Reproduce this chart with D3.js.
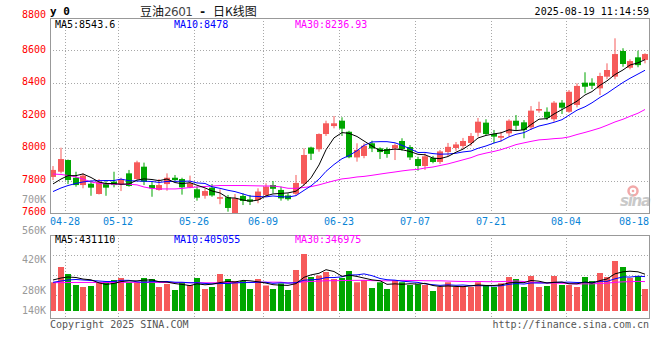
<!DOCTYPE html>
<html><head><meta charset="utf-8">
<script src="https://cdn.jsdelivr.net/npm/d3@7"></script>
<style>body{margin:0;background:#fff}svg{display:block}</style>
</head><body>
<svg id="c" width="660" height="360"></svg>
<script>
// ---------- data ----------
const dates = ["04-24","04-25","04-28","04-29","04-30","05-06","05-07","05-08","05-09","05-12",
"05-13","05-14","05-15","05-16","05-19","05-20","05-21","05-22","05-23","05-26",
"05-27","05-28","05-29","05-30","06-03","06-04","06-05","06-06","06-09","06-10",
"06-11","06-12","06-13","06-16","06-17","06-18","06-19","06-20","06-23","06-24",
"06-25","06-26","06-27","06-30","07-01","07-02","07-03","07-04","07-07","07-08",
"07-09","07-10","07-11","07-14","07-15","07-16","07-17","07-18","07-21","07-22",
"07-23","07-24","07-25","07-28","07-29","07-30","07-31","08-01","08-04","08-05",
"08-06","08-07","08-08","08-11","08-12","08-13","08-14","08-15","08-18"];
const open = [7822,7854,7926,7817,7772,7780,7717,7783,7793,7778,
7844,7809,7885,7772,7742,7778,7817,7809,7758,7746,
7706,7756,7688,7697,7600,7705,7684,7680,7711,7772,
7742,7708,7718,7780,8003,7992,8086,8135,8168,8100,
7942,7951,8029,7998,7994,7997,8043,8006,7932,7889,
7938,7914,7975,8000,8012,8031,8094,8156,8086,8063,
8090,8168,8158,8127,8230,8223,8177,8279,8223,8265,
8402,8402,8367,8439,8439,8597,8494,8558,8542];
const high = [7889,8002,7929,7854,7844,7799,7809,7803,7854,7817,
7865,7922,7910,7793,7809,7844,7834,7817,7830,7762,
7750,7778,7746,7711,7717,7721,7711,7752,7783,7797,
7762,7721,7834,7998,8008,8090,8168,8197,8189,8106,
8029,8029,8045,8004,8004,8029,8060,8018,7946,7967,
7951,7988,8031,8037,8062,8092,8185,8177,8111,8100,
8177,8203,8172,8258,8285,8250,8289,8295,8357,8398,
8466,8429,8463,8521,8675,8614,8546,8599,8583];
const low = [7803,7844,7778,7762,7752,7706,7714,7706,7758,7735,
7762,7805,7772,7700,7737,7737,7793,7713,7752,7676,
7688,7700,7654,7608,7596,7649,7649,7660,7700,7721,
7676,7676,7708,7768,7926,7977,8074,8121,8074,7937,
7916,7937,7975,7932,7940,7926,7983,7926,7860,7865,
7906,7902,7951,7982,7994,8012,8070,8080,8029,8039,
8070,8111,8060,8111,8217,8172,8162,8209,8217,8250,
8337,8363,8326,8423,8423,8500,8484,8497,8521];
const close = [7865,7932,7803,7772,7830,7756,7793,7756,7772,7807,
7766,7912,7793,7752,7772,7817,7803,7758,7783,7694,
7735,7708,7697,7631,7690,7674,7670,7732,7762,7749,
7690,7685,7785,7957,7965,8086,8152,8152,8119,7943,
7988,8014,7997,7975,7963,8018,7994,7942,7889,7949,
7914,7979,8007,8022,8043,8074,8162,8086,8070,8074,
8168,8137,8111,8230,8240,8186,8279,8248,8346,8382,
8377,8383,8443,8480,8578,8517,8535,8510,8578];
const volume = [337800,517900,435500,306000,282500,294250,337800,344900,364900,388400,
337800,337800,388400,376600,282500,317800,247200,341300,306000,388400,
258900,282500,435500,376600,353100,353100,258900,376600,300100,258900,
323700,247200,482600,670900,400200,417800,459000,376600,388400,470800,
337800,364900,270700,337800,258900,364900,337800,306000,314300,306000,
235400,282500,337800,282500,294250,282500,337800,306000,282500,326000,
400200,376600,282500,412000,282500,294250,412000,306000,306000,282500,
400200,353100,447300,400200,588500,517900,388400,412000,258900];
// moving-average values before enough history is on screen
const ma5Head = [7779,7809,7830,7830];
const ma10Head = [7732,7754,7769,7782,7791,7797,7799,7800,7800];
const ma30Head = [7840,7837,7831,7822,7809,7791,7782,7779,7777,7777,7777,7773,7760,7751,7748,
7748,7748,7751,7757,7760,7763,7766,7769,7769,7769,7769,7768,7767,7766];
const vma5Head = [364900,388400,400200,394300];
const vma10Head = [337800,353100,364900,370800,364900,359000,353100,347200,347200];
const vma30Head = [333000,334000,335000,336000,336000,336000,336000,336000,336000,337000,
337000,337000,337000,337000,336000,335000,334000,333000,333000,332000,
332000,332000,333000,334000,335000,336000,337000,338000,339000];
const dateTicks = ["04-28","05-12","05-26","06-09","06-23","07-07","07-21","08-04","08-18"];
const priceTicks = [7600,7800,8000,8200,8400,8600,8800];
const volTickLabels = ["700K","560K","420K","280K","140K"];
const maLabels = ["MA5:8543.6","MA10:8478","MA30:8236.93"];
const volMaLabels = ["MA5:431110","MA10:405055","MA30:346975"];

// ---------- layout ----------
const L = 50, R = 650, pTop = 18, pBot = 213, vTop = 235, vBot = 318, vBase = 311;
const volLabelY = [200, 231, 260, 290.5, 311];
const RED = "#f65a5a", GREEN = "#00a600", GRID = "#a8a8a8", FRAME = "#999";
const MONO = "'DejaVu Sans Mono', monospace";

const svg = d3.select("#c");
const x = d3.scaleBand().domain(dates).range([L, R]);
const y = d3.scaleLinear().domain([7600, 8800]).range([pBot, pTop]);
const yv = d3.scaleLinear().domain([0, 1000000]).range([vBase, vBase - 1000000 / 11770]);
const bx = d => Math.round(x(d));
const cx = i => bx(dates[i]) + 3;
const colorOf = i => close[i] >= open[i] ? RED : GREEN;

// ---------- watermark ----------
const wm = svg.append("g");
wm.append("circle").attr("cx", 633).attr("cy", 191).attr("r", 4.5)
  .attr("fill", "none").attr("stroke", "#f2a9a9").attr("stroke-width", 2.5);
wm.append("circle").attr("cx", 633).attr("cy", 191).attr("r", 1.3).attr("fill", "#f2a9a9");
wm.append("text").attr("x", 620).attr("y", 206).text("sina")
  .attr("font-family", "'DejaVu Sans', sans-serif").attr("font-size", 15).attr("font-weight", "bold")
  .attr("font-style", "italic").attr("fill", "#c9c9c9").attr("textLength", 31);

// ---------- grids ----------
const grid = svg.append("g").attr("stroke", GRID).attr("stroke-dasharray", "1,2").attr("fill", "none");
priceTicks.filter(v => v > 7600 && v < 8800).forEach(v => {
  const yy = Math.round(y(v)) + 0.5;
  grid.append("line").attr("x1", L).attr("x2", R - 1).attr("y1", yy).attr("y2", yy);
});
[1, 2, 3].forEach(k => {
  const yy = vTop + k * 20 + 0.5;
  grid.append("line").attr("x1", L).attr("x2", R - 1).attr("y1", yy).attr("y2", yy);
});
dateTicks.slice(0, -1).forEach(d => {
  const xx = bx(d) + 0.5;
  grid.append("line").attr("x1", xx).attr("x2", xx).attr("y1", pTop).attr("y2", pBot);
  grid.append("line").attr("x1", xx).attr("x2", xx).attr("y1", vTop).attr("y2", vBot);
});

// ---------- candles ----------
const cg = svg.append("g");
dates.forEach((d, i) => {
  const c = colorOf(i), left = bx(d);
  cg.append("rect").attr("x", left + 2.5).attr("width", 1)
    .attr("y", y(high[i])).attr("height", Math.max(1, y(low[i]) - y(high[i]))).attr("fill", c);
  const t = y(Math.max(open[i], close[i])), b = y(Math.min(open[i], close[i]));
  cg.append("rect").attr("x", left).attr("width", 6)
    .attr("y", t).attr("height", Math.max(1, b - t)).attr("fill", c);
});

// ---------- volume bars ----------
const vg = svg.append("g");
dates.forEach((d, i) => {
  vg.append("rect").attr("x", bx(d)).attr("width", 6)
    .attr("y", yv(volume[i])).attr("height", vBase - yv(volume[i])).attr("fill", colorOf(i));
});

// ---------- moving averages ----------
function movAvg(vals, n, head) {
  return vals.map((v, i) => i < n - 1 ? head[i] : d3.mean(vals.slice(i - n + 1, i + 1)));
}
const lineP = d3.line().x((d, i) => cx(i)).y(d => y(d));
const lineV = d3.line().x((d, i) => cx(i)).y(d => yv(d));
[[movAvg(close, 30, ma30Head), "#ff00ff"], [movAvg(close, 10, ma10Head), "#0000ff"], [movAvg(close, 5, ma5Head), "#000"]]
  .forEach(([s, col]) => svg.append("path").attr("d", lineP(s)).attr("fill", "none").attr("stroke", col).attr("stroke-width", 1));
[[movAvg(volume, 30, vma30Head), "#ff00ff"], [movAvg(volume, 10, vma10Head), "#0000ff"], [movAvg(volume, 5, vma5Head), "#000"]]
  .forEach(([s, col]) => svg.append("path").attr("d", lineV(s)).attr("fill", "none").attr("stroke", col).attr("stroke-width", 1));

// ---------- frames ----------
svg.append("rect").attr("x", L + 0.5).attr("y", pTop + 0.5).attr("width", R - L - 1).attr("height", pBot - pTop)
  .attr("fill", "none").attr("stroke", FRAME);
svg.append("rect").attr("x", L + 0.5).attr("y", vTop + 0.5).attr("width", R - L - 1).attr("height", vBot - vTop)
  .attr("fill", "none").attr("stroke", FRAME);

// ---------- axes / labels ----------
const ax = svg.append("g").attr("transform", `translate(${L},0)`)
  .call(d3.axisLeft(y).tickValues(priceTicks).tickSize(0).tickPadding(4).tickFormat(d3.format("d")));
ax.select(".domain").remove();
ax.selectAll("text").attr("fill", "#ff0000").attr("font-family", MONO).attr("font-size", 10)
  .attr("dy", d => d === 8800 ? "-0.05em" : "0.17em");

volTickLabels.forEach((t, k) => {
  svg.append("text").attr("x", 46).attr("y", volLabelY[k]).attr("dy", "0.32em").attr("text-anchor", "end")
    .attr("font-family", MONO).attr("font-size", 10).attr("fill", "#999").text(t);
});

dateTicks.forEach(d => {
  const xx = bx(d);
  const atEnd = xx + 15 > R - 1;
  svg.append("text").attr("x", atEnd ? R - 1 : xx).attr("y", 224.6)
    .attr("text-anchor", atEnd ? "end" : "middle")
    .attr("font-family", MONO).attr("font-size", 10).attr("fill", "#0a84d6").text(d);
});

const legendX = [55, 174, 295], legendC = ["#000", "#0000ff", "#ff00ff"];
maLabels.forEach((t, k) => svg.append("text").attr("x", legendX[k]).attr("y", 27.5)
  .attr("font-family", MONO).attr("font-size", 10).attr("fill", legendC[k]).text(t));
volMaLabels.forEach((t, k) => svg.append("text").attr("x", legendX[k]).attr("y", 242.5)
  .attr("font-family", MONO).attr("font-size", 10).attr("fill", legendC[k]).text(t));

// ---------- header / footer ----------
svg.append("text").attr("x", 50).attr("y", 15).attr("font-family", MONO).attr("font-size", 11)
  .attr("font-weight", "bold").attr("fill", "#000").text("y 0");
const CJK = "'Noto Sans CJK SC', sans-serif";
const title = svg.append("text").attr("y", 15.5).attr("font-size", 12).attr("fill", "#111");
title.append("tspan").attr("x", 140).attr("font-family", CJK).text("豆油");
title.append("tspan").attr("x", 164).attr("fill", "#444").attr("font-family", "'DejaVu Sans', sans-serif")
  .attr("font-size", 12).attr("textLength", 29).text("2601");
title.append("tspan").attr("x", 199).attr("font-family", MONO).attr("font-weight", "bold").text("-");
title.append("tspan").attr("x", 213).attr("font-family", CJK).text("日K线图");
svg.append("text").attr("x", 649).attr("y", 15.3).attr("text-anchor", "end").attr("font-family", MONO)
  .attr("font-size", 10).attr("fill", "#000").text("2025-08-19 11:14:59");
svg.append("text").attr("x", 50).attr("y", 327.6).attr("font-family", MONO).attr("font-size", 10)
  .attr("fill", "#555").text("Copyright 2025 SINA.COM");
svg.append("text").attr("x", 649).attr("y", 327.6).attr("text-anchor", "end").attr("font-family", MONO)
  .attr("font-size", 10).attr("fill", "#555").text("http://finance.sina.com.cn");
</script>
</body></html>
